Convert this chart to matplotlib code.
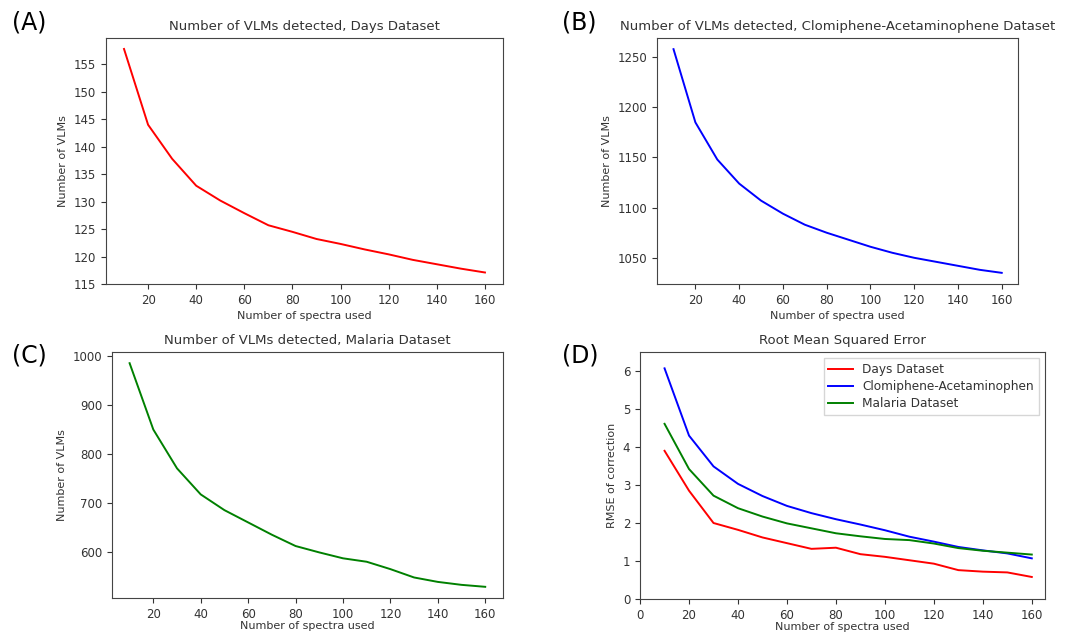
import numpy as np
import matplotlib
matplotlib.use("Agg")
from matplotlib import pyplot as plt

spectra = [10, 20, 30, 40, 50, 60, 70, 80, 90, 100, 110, 120, 130, 140, 150, 160]

days_vlms = [157.8, 144.0, 137.8, 132.9, 130.2, 127.9, 125.7, 124.5, 123.2, 122.3,
             121.3, 120.4, 119.4, 118.6, 117.8, 117.1]
clomiphene_vlms = [1258, 1185, 1148, 1124, 1107, 1094, 1083, 1075, 1068, 1061,
                   1055, 1050, 1046, 1042, 1038, 1035]
malaria_vlms = [985, 850, 771, 718, 686, 661, 636, 613, 600, 588,
                581, 566, 549, 540, 534, 530]

days_rmse = [3.90, 2.85, 2.00, 1.82, 1.62, 1.47, 1.32, 1.35, 1.18, 1.11,
             1.02, 0.93, 0.76, 0.72, 0.70, 0.58]
clomiphene_rmse = [6.07, 4.30, 3.49, 3.03, 2.71, 2.45, 2.26, 2.10, 1.96, 1.81,
                   1.64, 1.51, 1.37, 1.28, 1.20, 1.07]
malaria_rmse = [4.61, 3.42, 2.72, 2.39, 2.17, 1.99, 1.86, 1.73, 1.65, 1.58,
                1.55, 1.46, 1.34, 1.27, 1.22, 1.17]

text_col = "#333333"
plt.rcParams["font.family"] = "DejaVu Sans"
plt.rcParams["xtick.labelsize"] = 8.5
plt.rcParams["ytick.labelsize"] = 8.5
plt.rcParams["xtick.color"] = text_col
plt.rcParams["ytick.color"] = text_col
plt.rcParams["axes.edgecolor"] = "#444444"

fig = plt.figure(figsize=(10.65, 6.33), dpi=100)

ax1 = fig.add_axes([0.0995, 0.5513, 0.3728, 0.3887])
ax2 = fig.add_axes([0.617, 0.5513, 0.339, 0.3887])
ax3 = fig.add_axes([0.105, 0.0553, 0.3673, 0.3886])
ax4 = fig.add_axes([0.601, 0.0537, 0.380, 0.3902])


def style(ax, title, ylabel, pad=3):
    ax.set_title(title, fontsize=9.5, color=text_col)
    ax.set_xlabel("Number of spectra used", fontsize=8, color=text_col, labelpad=pad)
    ax.set_ylabel(ylabel, fontsize=8, color=text_col)


ax1.plot(spectra, days_vlms, color="red", lw=1.4)
ax1.set_ylim(115, 159.8)
style(ax1, "Number of VLMs detected, Days Dataset", "Number of VLMs")

ax2.plot(spectra, clomiphene_vlms, color="blue", lw=1.4)
style(ax2, "Number of VLMs detected, Clomiphene-Acetaminophene Dataset", "Number of VLMs")

ax3.plot(spectra, malaria_vlms, color="green", lw=1.4)
style(ax3, "Number of VLMs detected, Malaria Dataset", "Number of VLMs", pad=0)

ax4.plot(spectra, days_rmse, color="red", lw=1.4, label="Days Dataset")
ax4.plot(spectra, clomiphene_rmse, color="blue", lw=1.4, label="Clomiphene-Acetaminophen")
ax4.plot(spectra, malaria_rmse, color="green", lw=1.4, label="Malaria Dataset")
ax4.set_xlim(0, 165.3)
ax4.set_ylim(0, 6.5)
style(ax4, "Root Mean Squared Error", "RMSE of correction", pad=0)
ax4.legend(loc="upper right", fontsize=8.7, labelcolor=text_col, fancybox=False,
           edgecolor="#cccccc", borderaxespad=0.5, labelspacing=0.35)

for lab, x, y in [("(A)", 0.011, 0.945), ("(B)", 0.528, 0.945),
                  ("(C)", 0.011, 0.42), ("(D)", 0.528, 0.42)]:
    fig.text(x, y, lab, fontsize=17, color="black", va="bottom")

fig.savefig("out.png", dpi=100)
